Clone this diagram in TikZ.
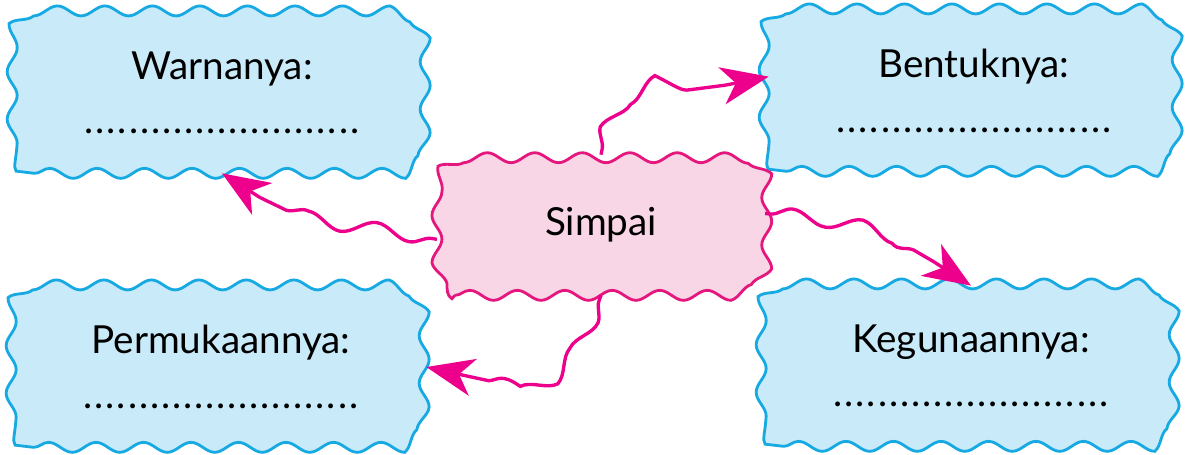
\documentclass[tikz,border=0pt]{standalone}
\usepackage{fontspec}
\setmainfont{Lato}
\usetikzlibrary{decorations.pathmorphing}
\usetikzlibrary{arrows.meta}
\usetikzlibrary{backgrounds}
\definecolor{boxblue}{HTML}{C9EAF9}
\definecolor{lineblue}{HTML}{17A9E1}
\definecolor{boxpink}{HTML}{F9D6E6}
\definecolor{linepink}{HTML}{E5177E}
\definecolor{arrowpink}{HTML}{EC008C}
\newcommand{\blankline}{{\addfontfeature{LetterSpace=5}.........................}}
% wavy frame behind a node: node, fill, line
% (the snake moves the frame a quarter wave forward, so it starts 2.4mm back)
\newcommand{\wavyframe}[3]{%
  \path[draw=#3, fill=#2, line width=1.6pt, decorate,
      decoration={snake, amplitude=1mm, segment length=9.5mm}]
    ([xshift=3.6mm]#1.south west) -- ([xshift=-8.4mm]#1.south east)
    arc[start angle=-90, end angle=0, radius=6mm]
    -- ([xshift=-2.4mm, yshift=-6mm]#1.north east)
    arc[start angle=0, end angle=90, radius=6mm]
    -- ([xshift=3.6mm]#1.north west)
    arc[start angle=90, end angle=180, radius=6mm]
    -- ([xshift=-2.4mm, yshift=6mm]#1.south west)
    arc[start angle=180, end angle=270, radius=6mm] -- cycle;}
\tikzset{
  infobox/.style={minimum width=8.2cm, minimum height=3.2cm, align=center,
    font=\fontsize{22}{31}\selectfont},
  mainbox/.style={minimum width=6.55cm, minimum height=2.8cm,
    font=\fontsize{22}{26}\selectfont},
  wavyarrow/.style={draw=arrowpink, line width=1.9pt,
    -{Stealth[length=9.5mm, width=7.5mm, inset=2.8mm]},
    decorate, decoration={snake, amplitude=1.4mm, segment length=14mm,
      pre length=1mm, post length=9mm}}
}
\begin{document}
\begin{tikzpicture}[x=0.02cm, y=0.02cm]
  \useasboundingbox (0,0) rectangle (1189,454);

  \node[infobox] (warna) at (222,361) {Warnanya:\\\blankline};
  \node[infobox] (bentuk) at (974,363) {Bentuknya:\\\blankline};
  \node[infobox] (permukaan) at (221,87) {Permukaannya:\\\blankline};
  \node[infobox] (guna) at (971,88) {Kegunaannya:\\\blankline};
  \node[mainbox] (simpai) at (601,229) {Simpai};

  \begin{scope}[on background layer]
    \wavyframe{warna}{boxblue}{lineblue}
    \wavyframe{bentuk}{boxblue}{lineblue}
    \wavyframe{permukaan}{boxblue}{lineblue}
    \wavyframe{guna}{boxblue}{lineblue}
    \wavyframe{simpai}{boxpink}{linepink}
  \end{scope}

  \draw[wavyarrow] (simpai.north) to[out=80, in=195] (bentuk.176);
  \draw[wavyarrow] (simpai.185) to[out=170, in=-37] (warna.south);
  \draw[wavyarrow] (simpai.south) to[out=-110, in=-15, looseness=1.3] (permukaan.east);
  \draw[wavyarrow] (simpai.4) to[out=-5, in=145] (guna.north);
\end{tikzpicture}
\end{document}
